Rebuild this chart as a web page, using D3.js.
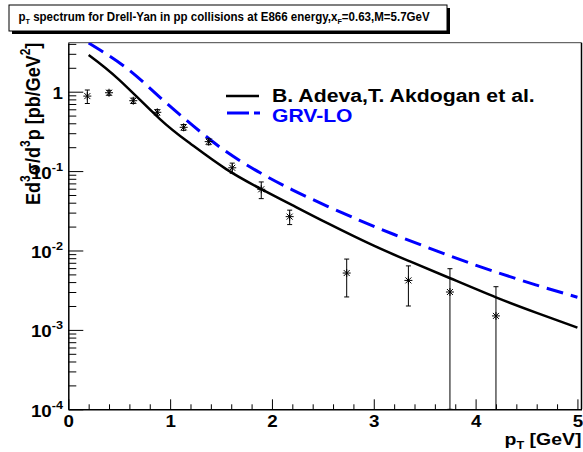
<!DOCTYPE html>
<html>
<head>
<meta charset="utf-8">
<script src="https://cdn.jsdelivr.net/npm/d3@7"></script>
<style>
  html, body { margin: 0; padding: 0; background: #fff; }
  svg { display: block; }
  text { font-family: "Liberation Sans", Arial, Helvetica, sans-serif; font-weight: bold; }
</style>
</head>
<body>
<svg id="chart" width="583" height="452"></svg>
<script>
// ---- data ----
const dataPt   = [0.187, 0.40, 0.638, 0.874, 1.133, 1.379, 1.61, 1.895, 2.174, 2.734, 3.34, 3.748, 4.20];
const dataVal  = [0.88, 0.97, 0.77, 0.55, 0.356, 0.235, 0.110, 0.059, 0.0267, 0.0052, 0.0042, 0.0030, 0.0015];
const dataErr  = [0.17, 0.07, 0.06, 0.045, 0.03, 0.02, 0.016, 0.014, 0.0055, 0.0026, 0.0022, 0.0029, 0.0020];

const adevaPt  = [0.2, 0.5, 0.9, 1.2, 1.55, 1.9, 2.2, 2.55, 3.0, 3.35, 3.75, 4.2, 4.6, 5.0];
const adevaVal = [2.90, 1.41, 0.452, 0.221, 0.106, 0.0589, 0.0372, 0.0219, 0.01148, 0.00733, 0.00447, 0.00257, 0.00164, 0.001067];

const grvPt    = [0.2, 0.57, 0.9, 1.23, 1.55, 1.88, 2.2, 2.54, 2.86, 3.2, 3.75, 4.2, 4.6, 5.0];
const grvVal   = [4.10, 1.99, 0.849, 0.368, 0.176, 0.0959, 0.0581, 0.0363, 0.0240, 0.0159, 0.00853, 0.00535, 0.00366, 0.00258];

const xMajorTicks = [0, 1, 2, 3, 4, 5];
const xTickLabels = ["0", "1", "2", "3", "4", "5"];
const yMajorTicks = [1e-4, 1e-3, 1e-2, 1e-1, 1];
const yTickBase   = ["10", "10", "10", "10", "1"];
const yTickExp    = ["-4", "-3", "-2", "-1", ""];
const legendNames = ["B. Adeva,T. Akdogan et al.", "GRV-LO"];

// ---- layout ----
const SX = 1.15; // horizontal glyph stretch seen in the reference
const svg = d3.select("#chart");
const X0 = 68.3, X1 = 581.5, Y0 = 409.3, Y1 = 42.7;
const x = d3.scaleLinear().domain([0, 5.04]).range([X0, X1]);
const y = d3.scaleLog().domain([1e-4, 4.14]).range([Y0, Y1]);

function stretchTo(sel, anchorX, targetW) {
  const w = sel.node().getBBox().width;
  const s = targetW ? targetW / w : SX;
  sel.attr("transform", `translate(${anchorX},0) scale(${s},1) translate(${-anchorX},0)`);
}

svg.append("defs").append("clipPath").attr("id", "clip")
  .append("rect").attr("x", X0).attr("y", Y1).attr("width", X1 - X0).attr("height", Y0 - Y1);

// Title box with shadow
const tb = { x: 9, y: 5, w: 438, h: 26 };
svg.append("rect").attr("x", tb.x + 3).attr("y", tb.y + 3).attr("width", tb.w).attr("height", tb.h).attr("fill", "#000");
svg.append("rect").attr("x", tb.x).attr("y", tb.y).attr("width", tb.w).attr("height", tb.h)
  .attr("fill", "#fff").attr("stroke", "#000").attr("stroke-width", 1);
const title = svg.append("text").attr("x", 18.5).attr("y", 21).attr("font-size", 12).attr("fill", "#000");
title.append("tspan").text("p");
title.append("tspan").attr("font-size", 7.5).attr("dy", 3).text("T");
title.append("tspan").attr("dy", -3).text(" spectrum for Drell-Yan in pp collisions at E866 energy,x");
title.append("tspan").attr("font-size", 7.5).attr("dy", 3).text("F");
title.append("tspan").attr("dy", -3).text("=0.63,M=5.7GeV");
stretchTo(title, 18.5, 411.5);

// Frame
svg.append("line").attr("x1", X0).attr("x2", X1).attr("y1", Y1).attr("y2", Y1).attr("stroke", "#444").attr("stroke-width", 1);
svg.append("line").attr("x1", X1).attr("x2", X1).attr("y1", Y1).attr("y2", Y0).attr("stroke", "#000").attr("stroke-width", 1.5);

// X axis
const gx = svg.append("g").attr("transform", `translate(0,${Y0})`);
const xMinor = d3.range(0, 5.001, 0.2).filter(v => Math.abs(v - Math.round(v)) > 1e-6);
gx.append("g").call(d3.axisBottom(x).tickValues(xMinor).tickSizeInner(-5).tickSizeOuter(0).tickFormat(""))
  .call(g => g.select(".domain").remove());
gx.append("g").call(d3.axisBottom(x).tickValues(xMajorTicks).tickSizeInner(-10).tickSizeOuter(0)
    .tickFormat((d, i) => xTickLabels[i]))
  .call(g => g.select(".domain").attr("stroke-width", 1.5))
  .call(g => g.selectAll("text").attr("font-size", 16.3).attr("font-family", "Liberation Sans, Arial, sans-serif")
      .attr("font-weight", "bold").attr("fill", "#000").attr("y", 17.4).attr("dy", null)
      .attr("transform", `scale(${SX},1)`));
gx.selectAll("line").attr("stroke", "#000");

// Y axis
const gy = svg.append("g").attr("transform", `translate(${X0},0)`);
const yMinor = [];
for (let e = -4; e <= 0; e++) for (let m = 2; m <= 9; m++) { const v = m * Math.pow(10, e); if (v <= 4.14) yMinor.push(v); }
gy.append("g").call(d3.axisLeft(y).tickValues(yMinor).tickSizeInner(-8).tickSizeOuter(0).tickFormat(""))
  .call(g => g.select(".domain").remove());
gy.append("g").call(d3.axisLeft(y).tickValues(yMajorTicks).tickSizeInner(-15).tickSizeOuter(0).tickFormat(""))
  .call(g => g.select(".domain").attr("stroke-width", 1.5));
gy.selectAll("line").attr("stroke", "#000");

yMajorTicks.forEach((v, i) => {
  const t = svg.append("text").attr("text-anchor", "end").attr("x", 63).attr("y", y(v) + 7.5)
    .attr("font-size", 16.3).attr("fill", "#000");
  t.append("tspan").text(yTickBase[i]);
  if (yTickExp[i]) t.append("tspan").attr("font-size", 11).attr("dy", -8).text(yTickExp[i]);
  stretchTo(t, 63);
});

// Axis titles
const xt = svg.append("text").attr("text-anchor", "end").attr("x", 581.5).attr("y", 445)
  .attr("font-size", 17).attr("fill", "#000");
xt.append("tspan").text("p");
xt.append("tspan").attr("font-size", 11).attr("dy", 4).text("T");
xt.append("tspan").attr("dy", -4).text(" [GeV]");
stretchTo(xt, 581.5, 77);

const yt = svg.append("text").attr("text-anchor", "end")
  .attr("transform", `translate(39.5,${Y1}) rotate(-90) scale(1,${SX})`).attr("font-size", 18).attr("fill", "#000");
yt.append("tspan").text("Ed");
yt.append("tspan").attr("font-size", 12).attr("dy", -8).text("3");
yt.append("tspan").attr("dy", 8).text("σ/d");
yt.append("tspan").attr("font-size", 12).attr("dy", -8).text("3");
yt.append("tspan").attr("dy", 8).text("p [pb/GeV");
yt.append("tspan").attr("font-size", 12).attr("dy", -8).text("2");
yt.append("tspan").attr("dy", 8).text("]");

// Curves
const plot = svg.append("g").attr("clip-path", "url(#clip)");
const line = d3.line().x(d => x(d[0])).y(d => y(d[1])).curve(d3.curveNatural);
plot.append("path").datum(adevaPt.map((v, i) => [v, adevaVal[i]])).attr("d", line)
  .attr("fill", "none").attr("stroke", "#000").attr("stroke-width", 2.5);
plot.append("path").datum(grvPt.map((v, i) => [v, grvVal[i]])).attr("d", line)
  .attr("fill", "none").attr("stroke", "#0000ff").attr("stroke-width", 3).attr("stroke-dasharray", "17,8");

// Data points with error bars
const pts = plot.append("g");
dataPt.forEach((px, i) => {
  const cx = x(px), cy = y(dataVal[i]);
  const hi = dataVal[i] + dataErr[i], lo = dataVal[i] - dataErr[i];
  const yHi = y(hi), yLo = lo > 1e-4 ? y(lo) : Y0 + 5;
  const g = pts.append("g").attr("stroke", "#000").attr("stroke-width", 1);
  g.append("line").attr("x1", cx).attr("x2", cx).attr("y1", yHi).attr("y2", yLo);
  g.append("line").attr("x1", cx - 2.5).attr("x2", cx + 2.5).attr("y1", yHi).attr("y2", yHi);
  if (lo > 1e-4) g.append("line").attr("x1", cx - 2.5).attr("x2", cx + 2.5).attr("y1", yLo).attr("y2", yLo);
  const r = 4;
  g.append("line").attr("x1", cx - r).attr("x2", cx + r).attr("y1", cy).attr("y2", cy);
  g.append("line").attr("x1", cx).attr("x2", cx).attr("y1", cy - r).attr("y2", cy + r);
  g.append("line").attr("x1", cx - r * 0.75).attr("x2", cx + r * 0.75).attr("y1", cy - r * 0.75).attr("y2", cy + r * 0.75);
  g.append("line").attr("x1", cx - r * 0.75).attr("x2", cx + r * 0.75).attr("y1", cy + r * 0.75).attr("y2", cy - r * 0.75);
});

// Legend
const lg = svg.append("g");
lg.append("line").attr("x1", 226).attr("x2", 259).attr("y1", 96).attr("y2", 96).attr("stroke", "#000").attr("stroke-width", 2.5);
const l1 = lg.append("text").attr("x", 272).attr("y", 102).attr("font-size", 18.5).attr("fill", "#000").text(legendNames[0]);
stretchTo(l1, 272, 263);
lg.append("line").attr("x1", 227).attr("x2", 260).attr("y1", 113).attr("y2", 113).attr("stroke", "#0000ff").attr("stroke-width", 3)
  .attr("stroke-dasharray", "22,5");
const l2 = lg.append("text").attr("x", 272).attr("y", 122).attr("font-size", 18.5).attr("fill", "#0000ff").text(legendNames[1]);
stretchTo(l2, 272, 80.5);
</script>
</body>
</html>
